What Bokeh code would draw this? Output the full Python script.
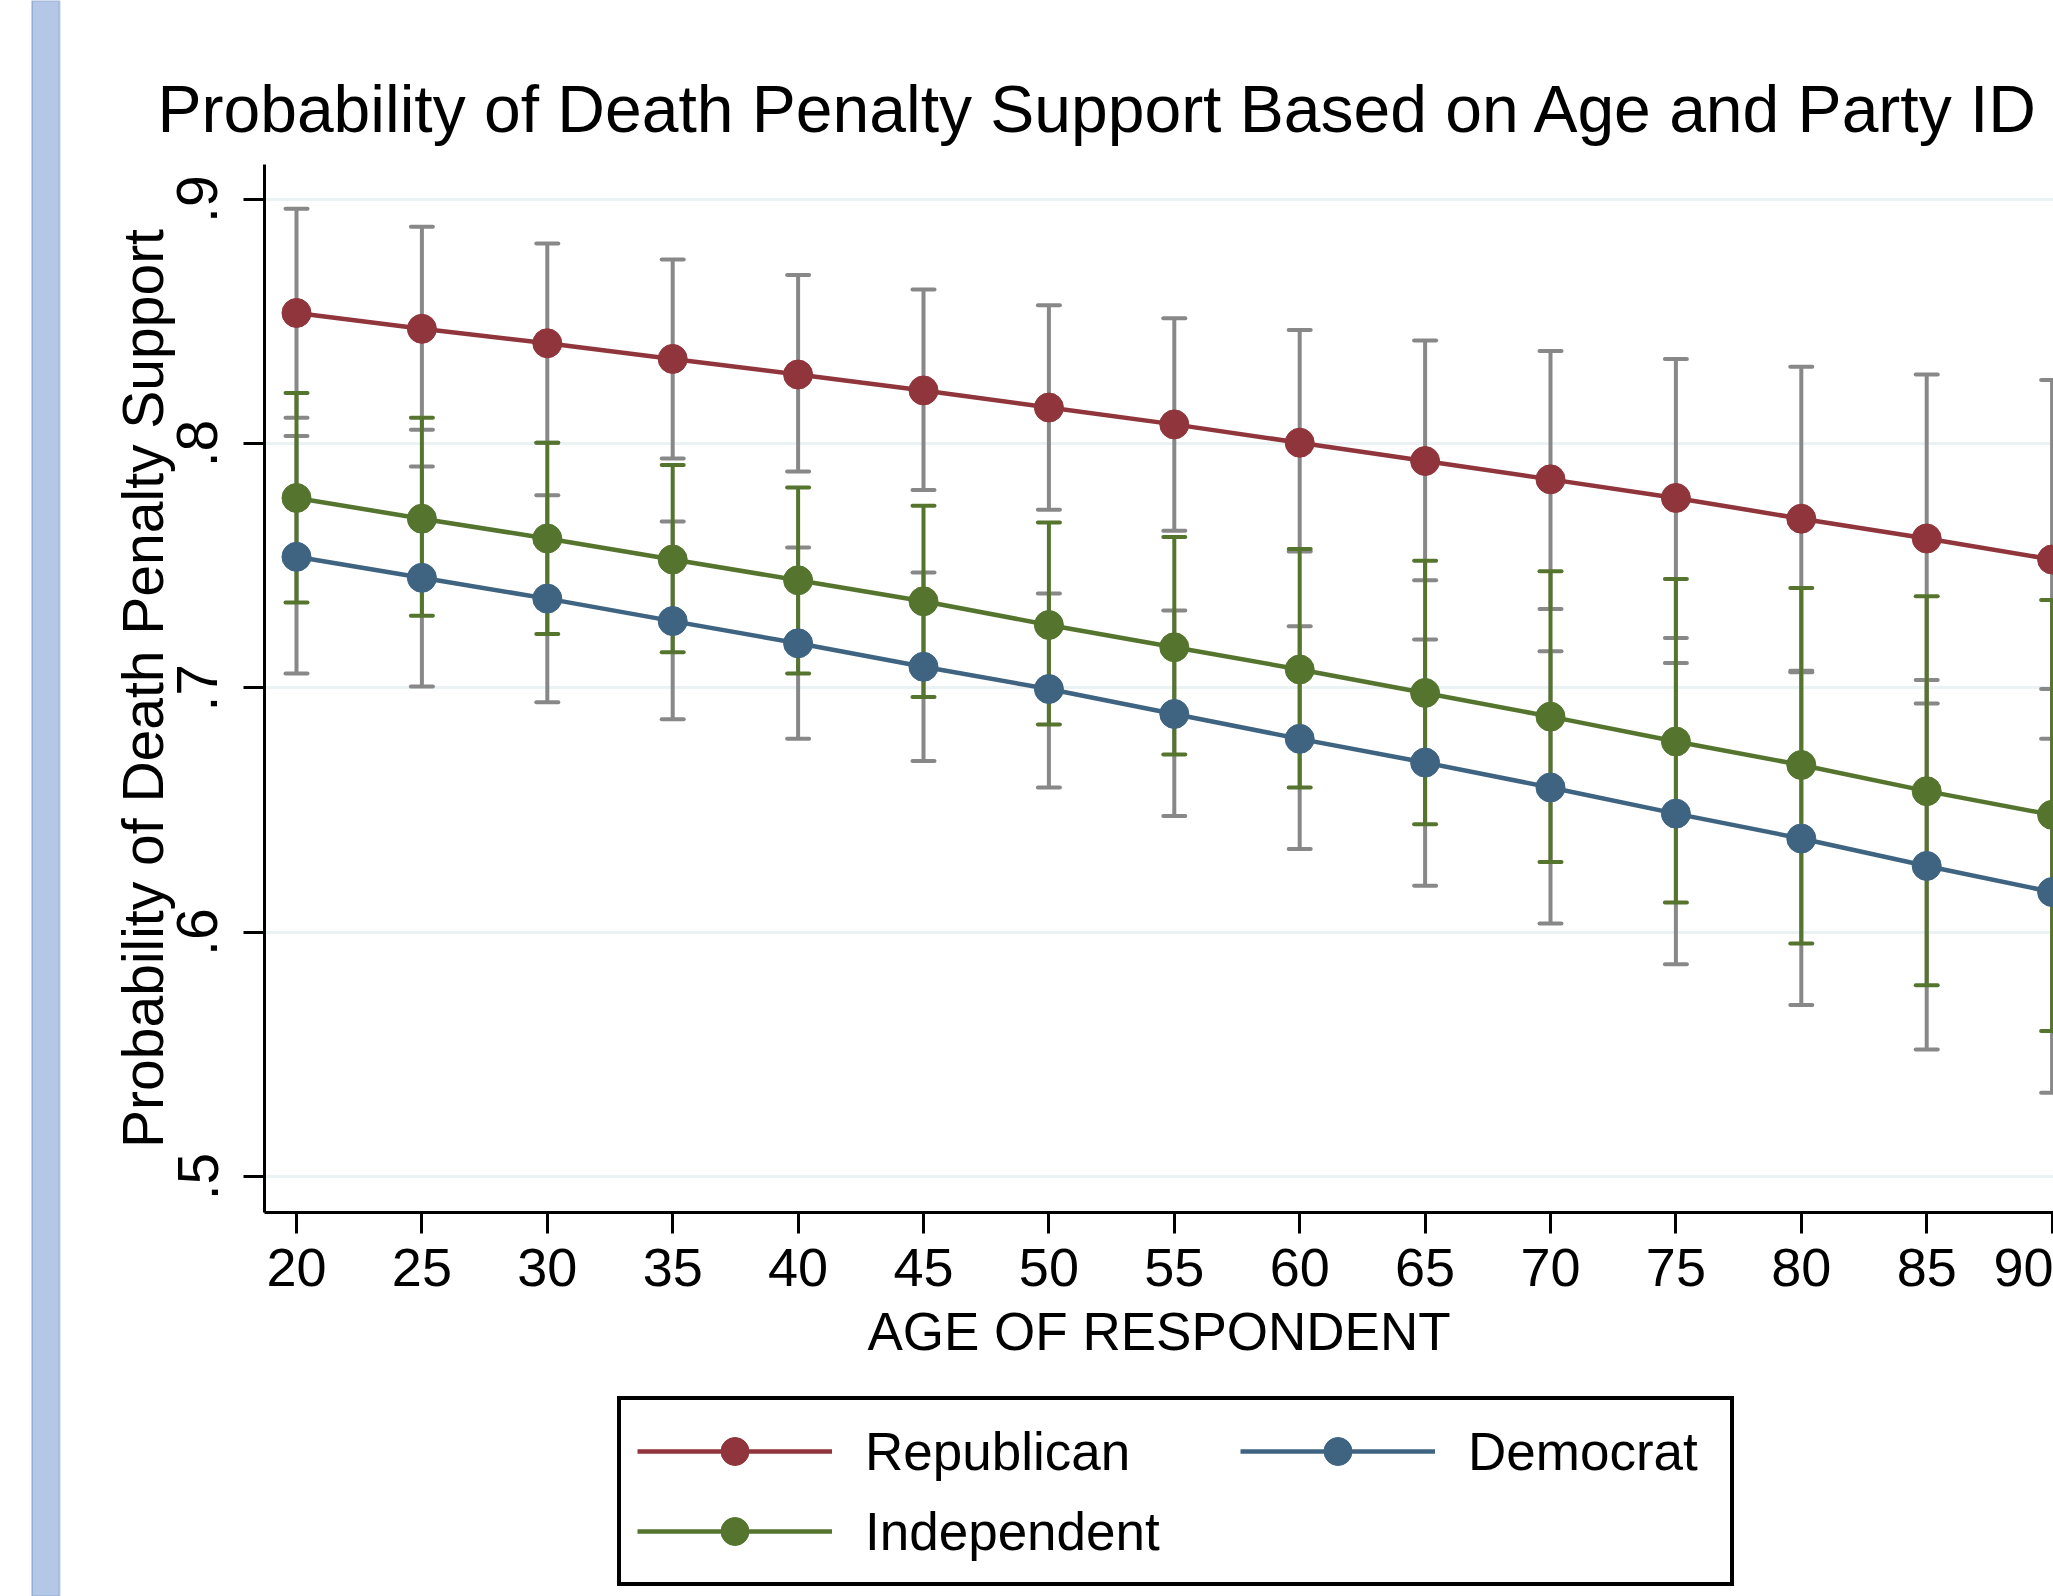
from bokeh.plotting import figure
from bokeh.models import FixedTicker, Legend, LegendItem, BoxAnnotation
from bokeh.layouts import row, column
from bokeh.embed import file_html
from bokeh.resources import INLINE

# ---------------- data ----------------
ages = [20, 25, 30, 35, 40, 45, 50, 55, 60, 65, 70, 75, 80, 85, 90]
x_tick_labels = ["20", "25", "30", "35", "40", "45", "50", "55", "60", "65", "70", "75", "80", "85", "90"]
y_ticks = [0.5, 0.6, 0.7, 0.8, 0.9]
y_tick_labels = [".5", ".6", ".7", ".8", ".9"]

rep = [0.8534, 0.8469, 0.8410, 0.8346, 0.8282, 0.8217, 0.8147, 0.8078, 0.8003, 0.7928, 0.7853, 0.7777, 0.7692, 0.7611, 0.7525]
rep_hi = [0.8960, 0.8887, 0.8818, 0.8753, 0.8689, 0.8630, 0.8566, 0.8512, 0.8464, 0.8421, 0.8378, 0.8346, 0.8314, 0.8282, 0.8260]
rep_lo = [0.8105, 0.8056, 0.8003, 0.7938, 0.7885, 0.7810, 0.7729, 0.7643, 0.7558, 0.7440, 0.7322, 0.7204, 0.7070, 0.6936, 0.6791]

dem = [0.7536, 0.7450, 0.7365, 0.7273, 0.7182, 0.7086, 0.6995, 0.6893, 0.6791, 0.6694, 0.6592, 0.6485, 0.6383, 0.6271, 0.6164]
dem_hi = [0.8030, 0.7906, 0.7788, 0.7681, 0.7574, 0.7472, 0.7386, 0.7316, 0.7252, 0.7198, 0.7150, 0.7102, 0.7064, 0.7032, 0.6995]
dem_lo = [0.7059, 0.7005, 0.6941, 0.6871, 0.6791, 0.6700, 0.6592, 0.6475, 0.6340, 0.6190, 0.6035, 0.5869, 0.5702, 0.5520, 0.5343]

ind = [0.7777, 0.7692, 0.7611, 0.7525, 0.7440, 0.7354, 0.7257, 0.7166, 0.7075, 0.6979, 0.6882, 0.6780, 0.6684, 0.6577, 0.6480]
ind_hi = [0.8206, 0.8105, 0.8003, 0.7912, 0.7820, 0.7745, 0.7676, 0.7617, 0.7568, 0.7520, 0.7477, 0.7445, 0.7408, 0.7375, 0.7359]
ind_lo = [0.7349, 0.7295, 0.7220, 0.7145, 0.7059, 0.6962, 0.6850, 0.6727, 0.6592, 0.6442, 0.6287, 0.6121, 0.5954, 0.5783, 0.5595]

series_names = ["Republican", "Democrat", "Independent"]
title_text = "Probability of Death Penalty Support Based on Age and Party ID"
x_title = "AGE OF RESPONDENT"
y_title = "Probability of Death Penalty Support"

# ---------------- styling / layout ----------------
REP_C = "#90353b"
DEM_C = "#3e6481"
IND_C = "#55752f"
GRAY = "#888888"
FONT = "Liberation Sans"

BAR_W = 100                 # width of the slide-edge strip on the left
WM, HM = 2053 - BAR_W, 1390  # main chart
HL = 1596 - HM               # legend strip
ML, MT, MB = 164, 164, 178
NAN = float("nan")


def ref_age(X):
    return 20 + (X - 296.0) / 25.08


def ref_val(Y):
    return 0.9 - (Y - 198.6) / 2443.5


p = figure(width=WM, height=HM, output_backend="svg", toolbar_location=None,
           x_range=(ref_age(BAR_W + ML), ref_age(BAR_W + WM)),
           y_range=(ref_val(HM - MB), ref_val(MT)),
           min_border_left=ML, min_border_right=0, min_border_top=MT, min_border_bottom=MB,
           background_fill_color="white", border_fill_color="white", outline_line_color=None)

p.title.text = title_text
p.title.text_font = FONT
p.title.text_font_size = "66px"
p.title.text_font_style = "normal"
p.title.text_color = "black"
p.title.align = "left"
p.title.offset = -107
p.title.standoff = 37

p.xaxis.ticker = FixedTicker(ticks=ages)
p.xaxis.major_label_overrides = {a: l for a, l in zip(ages, x_tick_labels)}
p.yaxis.ticker = FixedTicker(ticks=y_ticks)
p.yaxis.major_label_overrides = {t: l for t, l in zip(y_ticks, y_tick_labels)}

for ax in (p.xaxis[0], p.yaxis[0]):
    ax.axis_line_width = 3
    ax.axis_line_color = "black"
    ax.major_tick_line_width = 3
    ax.major_tick_line_color = "black"
    ax.major_tick_in = 0
    ax.major_tick_out = 21
    ax.minor_tick_line_color = None
    ax.major_label_text_font = FONT
    ax.major_label_text_color = "black"
    ax.axis_label_text_font = FONT
    ax.axis_label_text_font_style = "normal"
    ax.axis_label_text_color = "black"

p.xaxis.axis_label = x_title
p.xaxis.major_label_text_font_size = "54px"
p.xaxis.axis_label_text_font_size = "53px"
p.xaxis.major_label_standoff = 15
p.xaxis.axis_label_standoff = 13

p.yaxis.axis_label = y_title
p.yaxis.major_label_text_font_size = "57px"
p.yaxis.axis_label_text_font_size = "57px"
p.yaxis.major_label_orientation = "vertical"
p.yaxis.major_label_standoff = 26
p.yaxis.axis_label_standoff = 0

p.xgrid.visible = False
p.ygrid.grid_line_color = "#eaf2f3"
p.ygrid.grid_line_width = 3

# ---------------- confidence intervals ----------------
CAP = 22
for lo, hi, col in ((rep_lo, rep_hi, GRAY), (dem_lo, dem_hi, GRAY), (ind_lo, ind_hi, IND_C)):
    p.segment(x0=ages, y0=lo, x1=ages, y1=hi, line_color=col, line_width=4)
    p.scatter(x=ages, y=lo, marker="dash", size=CAP, line_color=col, line_width=4, line_cap="round")
    p.scatter(x=ages, y=hi, marker="dash", size=CAP, line_color=col, line_width=4, line_cap="round")

# ---------------- series ----------------
styles = {"Republican": REP_C, "Democrat": DEM_C, "Independent": IND_C}
for name, vals in (("Republican", rep), ("Democrat", dem), ("Independent", ind)):
    p.line(x=ages, y=vals, line_color=styles[name], line_width=4.5)
    p.scatter(x=ages, y=vals, size=29, fill_color=styles[name], line_color=styles[name])

# ---------------- legend strip (below the chart) ----------------
pl = figure(width=WM, height=HL, output_backend="svg", toolbar_location=None,
            x_range=(0, 1), y_range=(0, 1), x_axis_type=None, y_axis_type=None,
            min_border=0, outline_line_color=None, background_fill_color="white",
            border_fill_color="white")
pl.grid.visible = False
proxy = {}
for name in series_names:
    # invisible stand-ins that only carry the legend styling
    ln = pl.line(x=[NAN], y=[NAN], line_color=styles[name], line_width=4.5)
    pt = pl.scatter(x=[NAN], y=[NAN], size=28, fill_color=styles[name], line_color=styles[name])
    proxy[name] = [ln, pt]

legend_common = dict(label_text_font=FONT, label_text_font_size="53px", label_text_color="black",
                     glyph_width=195, glyph_height=70, label_height=70, label_standoff=33,
                     spacing=10, padding=16, margin=0, orientation="vertical")
leg_a = Legend(items=[LegendItem(label=series_names[0], renderers=proxy["Republican"]),
                      LegendItem(label=series_names[2], renderers=proxy["Independent"])],
               location=(353, 10), label_width=849,
               border_line_color="black", border_line_width=4, border_line_alpha=1.0,
               background_fill_color="white", background_fill_alpha=1.0, **legend_common)
leg_b = Legend(items=[LegendItem(label=series_names[1], renderers=proxy["Democrat"])],
               location=(976, 110), border_line_color=None,
               background_fill_alpha=0.0, **legend_common)
pl.add_layout(leg_a, "center")
pl.add_layout(leg_b, "center")

# ---------------- slide edge strip ----------------
pb = figure(width=BAR_W, height=1596, output_backend="svg", toolbar_location=None,
            x_range=(0, BAR_W), y_range=(0, 1596), x_axis_type=None, y_axis_type=None,
            min_border=0, outline_line_color=None, background_fill_color="white",
            border_fill_color="white")
pb.grid.visible = False
pb.add_layout(BoxAnnotation(left=31.5, right=59, fill_color="#b4c7e7", fill_alpha=1.0,
                            line_color="#4a70b0", line_width=2))

layout = row(pb, column(p, pl, spacing=0), spacing=0)
open("out.html", "w").write(file_html(layout, INLINE))
